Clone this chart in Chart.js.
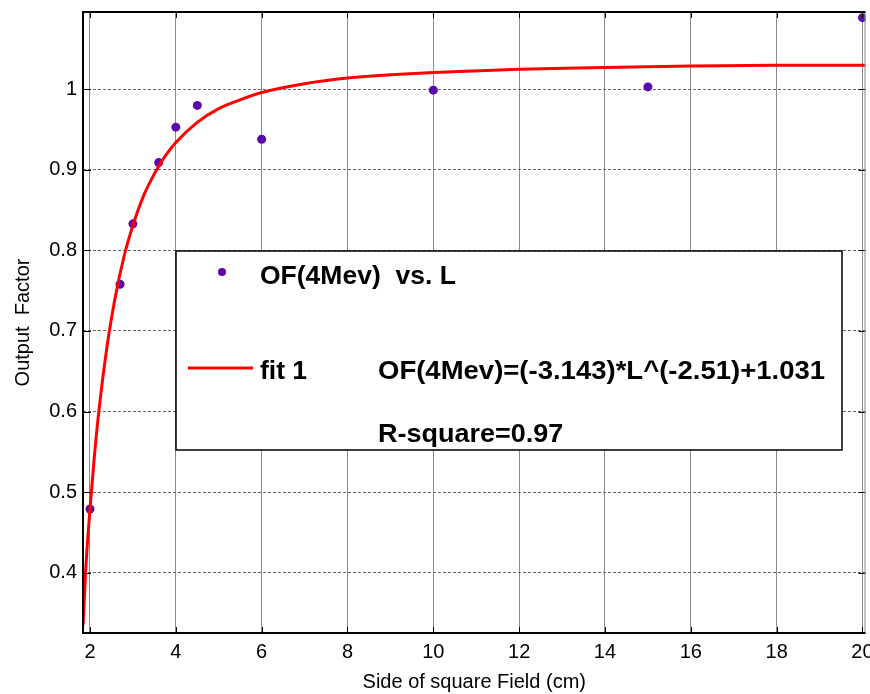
<!DOCTYPE html>
<html>
<head>
<meta charset="utf-8">
<title>Output Factor vs. Side of square Field</title>
<script src="https://cdn.jsdelivr.net/npm/chart.js@4.4.1/dist/chart.umd.min.js"></script>
<style>
    html, body { margin: 0; padding: 0; background: #fff; }
    #ofChart { display: block; }
</style>
</head>
<body>
<canvas id="ofChart" width="870" height="694"></canvas>
<script>
// measured output factors (4 MeV)
let sideL = [2, 2.7, 3, 3.6, 4, 4.5, 6, 10, 15, 20];
let outputFactor = [0.479, 0.758, 0.833, 0.909, 0.953, 0.980, 0.938, 0.999, 1.003, 1.089];

// fit curve
let fitL = [1.84, 1.9, 2, 2.1, 2.2, 2.4, 2.6, 2.8, 3, 3.25, 3.5, 3.75, 4, 4.5, 5, 5.5, 6, 7, 8, 9, 10, 12, 14, 16, 18, 20.07];
let fitOF = [0.335, 0.403, 0.479, 0.543, 0.597, 0.682, 0.745, 0.794, 0.831, 0.868, 0.895, 0.917, 0.934, 0.959, 0.976, 0.987, 0.996, 1.007, 1.014, 1.018, 1.021, 1.025, 1.027, 1.029, 1.030, 1.030];

// axis ticks
let xTicks = [2, 4, 6, 8, 10, 12, 14, 16, 18, 20];
let yTicks = [0.4, 0.5, 0.6, 0.7, 0.8, 0.9, 1];

let pointColor = "#5a0aac";
let fitColor = "#ff0000";
let tickFont = { family: "'Liberation Sans', Arial, sans-serif", size: 20 };

// draw text a bit wider, like the original export
function wideText(ctx, text, x, y, sx) {
    ctx.save();
    ctx.translate(x, y);
    ctx.scale(sx, 1);
    ctx.fillText(text, 0, 0);
    ctx.restore();
}

// no extra room for the end labels, the plot box is fixed
function noPadding(scale) {
    scale.paddingLeft = 0;
    scale.paddingRight = 0;
    scale.paddingTop = 0;
    scale.paddingBottom = 0;
}

// box, inward tick marks
let framePlugin = {
    id: "frame",
    afterDraw(chart) {
        let ctx = chart.ctx;
        let a = chart.chartArea;
        let xs = chart.scales.x;
        let ys = chart.scales.y;
        ctx.save();
        ctx.strokeStyle = "#000";
        ctx.lineWidth = 1;
        ctx.beginPath();
        xTicks.forEach(v => {
            let px = Math.round(xs.getPixelForValue(v)) + 0.5;
            ctx.moveTo(px, a.bottom); ctx.lineTo(px, a.bottom - 6);
            ctx.moveTo(px, a.top); ctx.lineTo(px, a.top + 6);
        });
        yTicks.forEach(v => {
            let py = Math.round(ys.getPixelForValue(v)) + 0.5;
            ctx.moveTo(a.left, py); ctx.lineTo(a.left + 8, py);
            ctx.moveTo(a.right, py); ctx.lineTo(a.right - 7, py);
        });
        ctx.stroke();

        // right edge is thin grey
        ctx.strokeStyle = "#888";
        ctx.beginPath();
        ctx.moveTo(a.right - 0.5, a.top); ctx.lineTo(a.right - 0.5, a.bottom);
        ctx.stroke();

        ctx.strokeStyle = "#000";
        ctx.lineWidth = 2;
        ctx.beginPath();
        ctx.moveTo(a.right, a.top); ctx.lineTo(a.left, a.top);
        ctx.lineTo(a.left, a.bottom); ctx.lineTo(a.right, a.bottom);
        ctx.stroke();
        ctx.restore();
    }
};

// legend box with fit equation
let legendPlugin = {
    id: "fitLegend",
    afterDraw(chart) {
        let ctx = chart.ctx;
        let a = chart.chartArea;
        let bx = a.left + 93, by = a.top + 239, bw = 666, bh = 199;
        ctx.save();
        ctx.fillStyle = "#fff";
        ctx.fillRect(bx, by, bw, bh);
        ctx.strokeStyle = "#000";
        ctx.lineWidth = 1.5;
        ctx.strokeRect(bx, by, bw, bh);

        ctx.fillStyle = pointColor;
        ctx.beginPath();
        ctx.arc(bx + 46, by + 21, 4, 0, Math.PI * 2);
        ctx.fill();

        ctx.strokeStyle = fitColor;
        ctx.lineWidth = 3;
        ctx.beginPath();
        ctx.moveTo(bx + 12, by + 117);
        ctx.lineTo(bx + 77, by + 117);
        ctx.stroke();

        ctx.fillStyle = "#000";
        ctx.font = "bold 25px 'Liberation Sans', Arial, sans-serif";
        ctx.textBaseline = "alphabetic";
        ctx.textAlign = "left";
        wideText(ctx, "OF(4Mev)  vs. L", bx + 84, by + 33, 1.06);
        wideText(ctx, "fit 1", bx + 84, by + 128, 1.06);
        wideText(ctx, "OF(4Mev)=(-3.143)*L^(-2.51)+1.031", bx + 202, by + 128, 1.1);
        wideText(ctx, "R-square=0.97", bx + 202, by + 191, 1.08);
        ctx.restore();
    }
};

let ctx = document.getElementById("ofChart").getContext("2d");

let chart = new Chart(ctx, {
    type: "scatter",
    data: {
        datasets: [{
            label: "fit 1",
            data: fitL.map((v, i) => ({ x: v, y: fitOF[i] })),
            showLine: true,
            borderColor: fitColor,
            borderWidth: 3,
            pointRadius: 0,
            cubicInterpolationMode: "monotone",
            fill: false
        }, {
            label: "OF(4Mev)  vs. L",
            data: sideL.map((v, i) => ({ x: v, y: outputFactor[i] })),
            backgroundColor: pointColor,
            borderWidth: 0,
            pointRadius: 4.5
        }]
    },
    options: {
        responsive: false,
        animation: false,
        layout: { padding: { top: 12, right: 0, left: 0, bottom: 0 } },
        plugins: {
            legend: { display: false },
            tooltip: { enabled: false }
        },
        scales: {
            x: {
                type: "linear",
                min: 1.837,
                max: 20.07,
                afterBuildTicks: scale => { scale.ticks = xTicks.map(v => ({ value: v })); },
                afterFit: scale => { scale.height = 61; noPadding(scale); },
                ticks: {
                    autoSkip: false, maxRotation: 0, padding: 7,
                    color: "#000", font: tickFont,
                    callback: v => String(v)
                },
                grid: { color: "rgba(0,0,0,0.45)", lineWidth: 1, drawTicks: false },
                border: { display: false },
                title: {
                    display: true,
                    text: "Side of square Field (cm)",
                    color: "#000",
                    font: tickFont,
                    padding: { top: 0, bottom: 0 }
                }
            },
            y: {
                type: "linear",
                min: 0.325,
                max: 1.096,
                afterBuildTicks: scale => { scale.ticks = yTicks.map(v => ({ value: v })); },
                afterFit: scale => { scale.width = 83; noPadding(scale); },
                ticks: {
                    autoSkip: false, padding: 6,
                    color: "#000", font: tickFont,
                    callback: v => String(v)
                },
                grid: { color: "#666", lineWidth: 1, drawTicks: false },
                border: { display: false, dash: [3, 2] },
                title: {
                    display: true,
                    text: "Output  Factor",
                    color: "#000",
                    font: tickFont,
                    padding: { top: 11, bottom: 0 }
                }
            }
        }
    },
    plugins: [framePlugin, legendPlugin]
});
</script>
</body>
</html>
